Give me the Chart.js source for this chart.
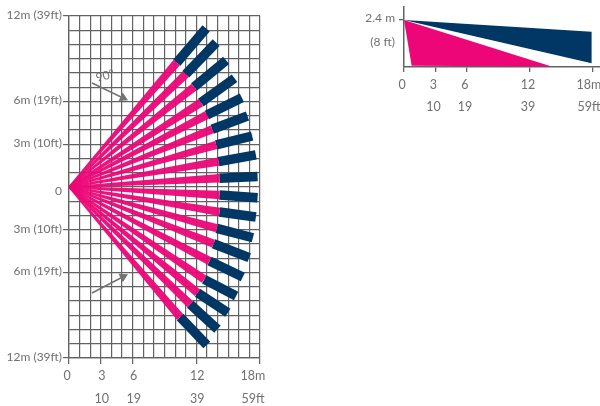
<!DOCTYPE html>
<html><head><meta charset="utf-8">
<script src="https://cdn.jsdelivr.net/npm/chart.js@4"></script>
<style>
html,body{margin:0;padding:0;background:#fff;width:600px;height:406px;overflow:hidden}
canvas{position:absolute;filter:blur(.35px)}
</style></head><body>
<div style="position:absolute;left:0;top:0;width:280px;height:406px"><canvas id="plan"></canvas></div>
<div style="position:absolute;left:340px;top:0;width:260px;height:130px"><canvas id="side"></canvas></div>
<script>
// Plan view: beam centre lines, metres
const pinkEndX=[10.16,11.0,11.79,12.42,12.99,13.49,13.87,14.09,14.18,14.18,14.18,13.93,13.62,13.24,12.74,12.11,11.42,10.47];
const pinkEndY=[8.73,7.91,7.02,5.92,5.05,4.05,2.95,1.78,0.61,-0.56,-1.75,-2.90,-3.98,-5.19,-6.48,-7.42,-8.23,-9.12];
const navyEndX=[12.92,13.87,14.81,15.6,16.29,16.82,17.26,17.61,17.77,17.77,17.61,17.33,16.98,16.38,15.75,14.97,13.99,12.99];
const navyEndY=[11.13,10.13,8.89,7.63,6.27,4.98,3.58,2.25,0.73,-0.75,-2.11,-3.56,-4.96,-6.32,-7.65,-8.82,-9.99,-11.09];
// Plan view: axis labels
const planXTicks=[0,3,6,12,18];
const planXMetres=["0","3","6","12","18m"];
const planXFeet=["","10","19","39","59ft"];
const planYTicks=[12,6,3,0,-3,-6,-12];
const planYLabels=["12m (39ft)","6m (19ft)","3m (10ft)","0","3m (10ft)","6m (19ft)","12m (39ft)"];
// Plan view: arrows
const arrowTopX=[2.17,5.1],arrowTopY=[7.3,6.25];
const arrowBottomX=[2.17,5.1],arrowBottomY=[-7.44,-6.3];
const angleLabel="90°";
// Side view
const sideXTicks=[0,3,6,12,18];
const sideXMetres=["0","3","6","12","18m"];
const sideXFeet=["","10","19","39","59ft"];
const sideHeightTick=2.4;
const sideHeightLabel=["2.4 m","(8 ft)"];
const sidePinkX=[0,0.73,14.06],sidePinkY=[2.4,0.07,0.02];
const sideNavyX=[0,17.87,17.87],sideNavyY=[2.4,1.8,0.19];

const PINK='rgba(236,6,119,.95)',NAVY='#003764',GRID='#626262',TXT='#707070';
const FONT='Lato,"Liberation Sans",sans-serif';
Chart.defaults.font.family=FONT;
Chart.defaults.animation=false;
const PX=10.61,PY=14.25,PINK_HALF=4.2,PINK_START=0.8;
const pts=(xs,ys)=>xs.map((x,i)=>({x,y:ys[i]}));

const planData=[];
pinkEndX.forEach((ex,i)=>{
  const ey=pinkEndY[i],px=ex*PX,py=ey*PY,l=Math.hypot(px,py);
  const ux=-py/l/PX,uy=px/l/PY;
  planData.push({data:[{x:ux*PINK_START,y:uy*PINK_START},{x:ex+ux*PINK_HALF,y:ey+uy*PINK_HALF},{x:ex-ux*PINK_HALF,y:ey-uy*PINK_HALF},{x:-ux*PINK_START,y:-uy*PINK_START}],showLine:true,borderWidth:0,pointRadius:0,fill:'shape',backgroundColor:PINK,borderColor:'transparent',clip:false});
});
pinkEndX.forEach((ex,i)=>{
  planData.push({data:[{x:ex,y:pinkEndY[i]},{x:navyEndX[i],y:navyEndY[i]}],showLine:true,borderColor:NAVY,borderWidth:9.5,borderCapStyle:'butt',pointRadius:0});
});
const arrow=(xs,ys,rot)=>({data:pts(xs,ys),showLine:true,borderColor:'#747474',borderWidth:1.6,backgroundColor:'#747474',pointStyle:'triangle',rotation:rot,pointRadius:c=>c.dataIndex===1?5.5:0,pointBorderWidth:0});
planData.push(arrow(arrowTopX,arrowTopY,116),arrow(arrowBottomX,arrowBottomY,63));

function shiftLabels(shifts){return{id:'shiftLabels',beforeDraw(chart){
  if(chart.$shifted)return;chart.$shifted=true;
  shifts.forEach(([axis,fn])=>{chart.scales[axis].getLabelItems().forEach(it=>{
    const [dx,dy]=fn(it.label);
    it.options.translation[0]+=dx;it.options.translation[1]+=dy;});});
}};}
const first=l=>Array.isArray(l)?l[0]:l;
const noPad=s=>{s.paddingLeft=s.paddingRight=s.paddingTop=s.paddingBottom=0};

new Chart(document.getElementById('plan'),{
  type:'scatter',
  data:{datasets:planData},
  plugins:[shiftLabels([
    ['x',l=>first(l)==='18m'?[-7,0]:first(l)==='0'?[-2,0]:[1,0]],
    ['y',l=>first(l)==='0'?[0,4]:[0,-1]]
  ]),{id:'angle',afterDatasetsDraw(chart){
    const c=chart.ctx,x=chart.scales.x.getPixelForValue(3.4),y=chart.scales.y.getPixelForValue(7.8);
    c.save();c.translate(x,y);c.rotate(-0.25);c.font='12px '+FONT;c.fillStyle=TXT;c.textAlign='center';c.textBaseline='middle';
    c.fillText(angleLabel,0,0);c.restore();
  }}],
  options:{responsive:true,maintainAspectRatio:false,
    layout:{padding:{left:0,top:16,right:20,bottom:0}},
    plugins:{legend:{display:false},tooltip:{enabled:false}},
    scales:{
      x:{type:'linear',min:0,max:18,afterFit:s=>{s.height=48;noPad(s)},
        afterBuildTicks:s=>{s.ticks=Array.from({length:19},(_,i)=>({value:i}))},
        border:{color:GRID,width:1.3},
        grid:{color:GRID,lineWidth:1.2,tickLength:6,tickColor:c=>planXTicks.includes(c.tick.value)?GRID:'transparent'},
        ticks:{autoSkip:false,maxRotation:0,padding:1,color:TXT,font:{size:12.5,lineHeight:1.82},
          callback:v=>{const i=planXTicks.indexOf(v);return i<0?'':[planXMetres[i],planXFeet[i]]}}},
      y:{type:'linear',min:-12,max:12,afterFit:s=>{s.width=69;noPad(s)},
        afterBuildTicks:s=>{s.ticks=Array.from({length:25},(_,i)=>({value:i-12}))},
        border:{color:GRID,width:1.3},
        grid:{color:GRID,lineWidth:1.2,tickLength:6,tickColor:c=>(planYTicks.includes(c.tick.value)&&c.tick.value!==0)?GRID:'transparent'},
        ticks:{autoSkip:false,padding:1,color:TXT,font:{size:12},
          callback:v=>{const i=planYTicks.indexOf(v);return i<0?'':planYLabels[i]}}}
    }}
});

new Chart(document.getElementById('side'),{
  type:'scatter',
  data:{datasets:[
    {data:pts(sidePinkX,sidePinkY),showLine:true,borderWidth:0,pointRadius:0,fill:'shape',backgroundColor:'#ec0677',borderColor:'transparent'},
    {data:pts(sideNavyX,sideNavyY),showLine:true,borderWidth:0,pointRadius:0,fill:'shape',backgroundColor:NAVY,borderColor:'transparent'}
  ]},
  plugins:[shiftLabels([
    ['x',l=>first(l)==='18m'?[-4,0]:[-2,0]],
    ['y',()=>[0,10]]
  ])],
  options:{responsive:true,maintainAspectRatio:false,
    layout:{padding:{left:0,top:7,right:0,bottom:0}},
    plugins:{legend:{display:false},tooltip:{enabled:false}},
    scales:{
      x:{type:'linear',min:0,max:18.67,afterFit:s=>{s.height=63;noPad(s)},
        afterBuildTicks:s=>{s.ticks=sideXTicks.map(value=>({value}))},
        border:{color:GRID,width:1.5},
        grid:{drawOnChartArea:false,color:GRID,lineWidth:1.3,tickLength:5},
        ticks:{autoSkip:false,maxRotation:0,padding:2,color:TXT,font:{size:12.5,lineHeight:1.76},
          callback:v=>{const i=sideXTicks.indexOf(v);return i<0?'':[sideXMetres[i],sideXFeet[i]]}}},
      y:{type:'linear',min:0,max:3.06,afterFit:s=>{s.width=64;noPad(s)},
        afterBuildTicks:s=>{s.ticks=[{value:sideHeightTick}]},
        border:{color:GRID,width:1.5},
        grid:{drawOnChartArea:false,color:GRID,lineWidth:1.3,tickLength:5},
        ticks:{autoSkip:false,padding:4,color:TXT,font:{size:12,lineHeight:1.95},
          callback:()=>sideHeightLabel}}
    }}
});
</script></body></html>
